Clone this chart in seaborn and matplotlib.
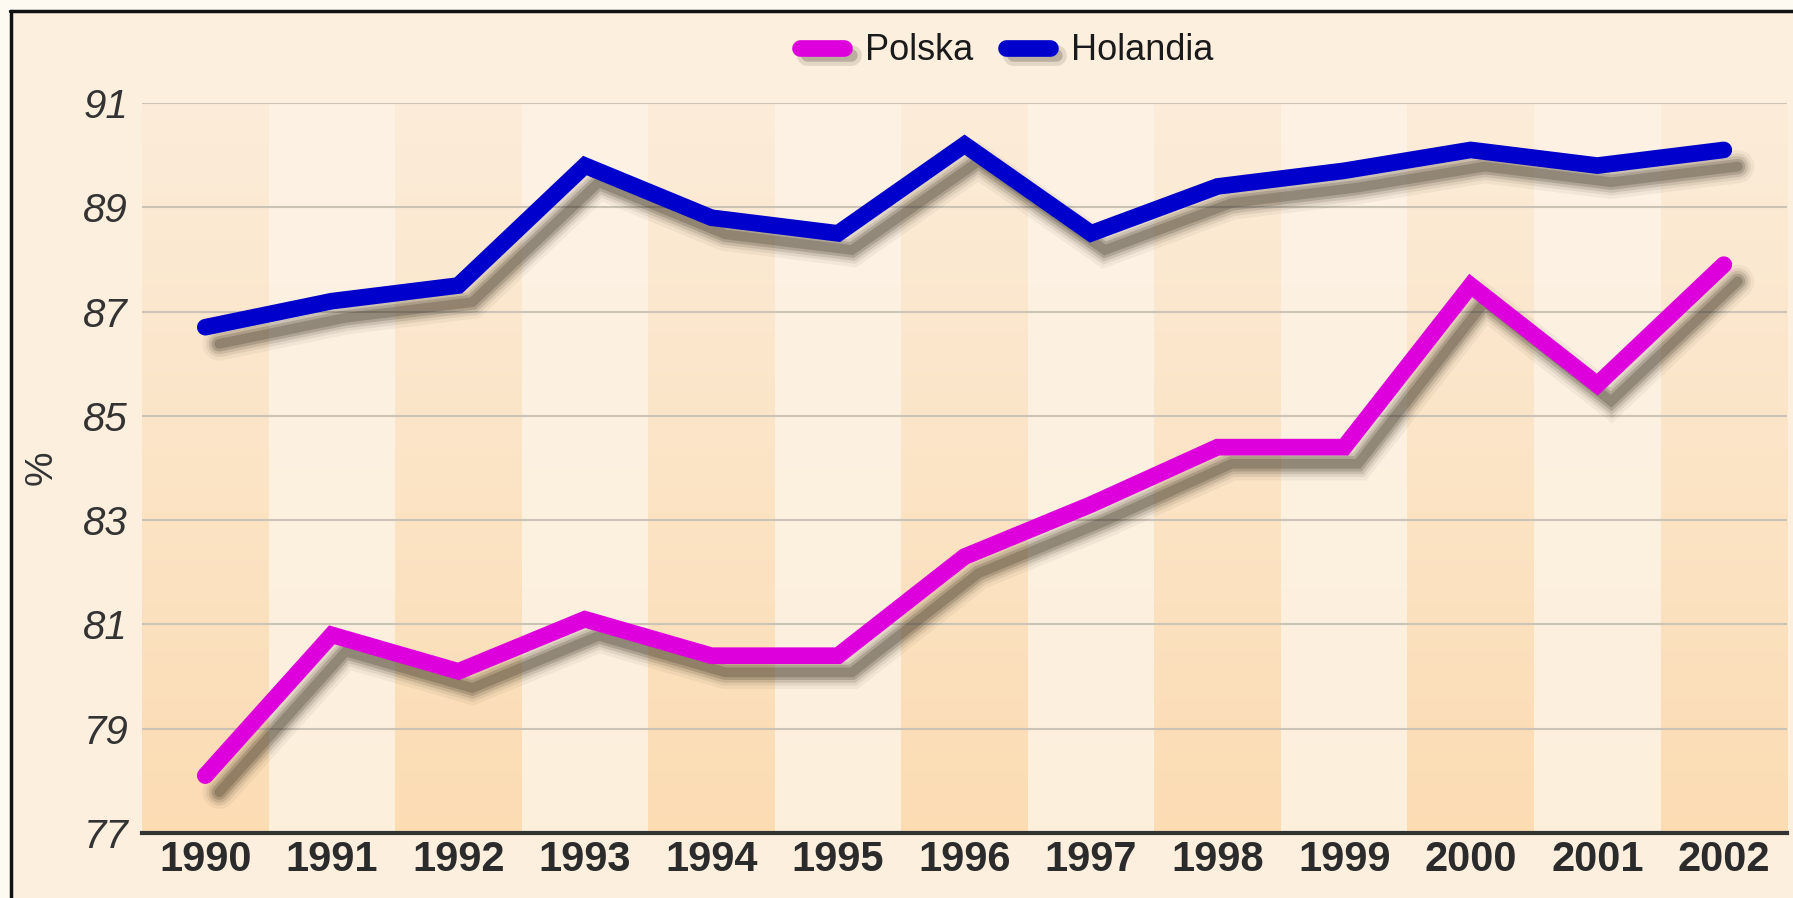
import numpy as np
import pandas as pd
import matplotlib.pyplot as plt
import matplotlib.patheffects as pe
from matplotlib.colors import LinearSegmentedColormap
from matplotlib.lines import Line2D
from matplotlib.patches import Rectangle
import seaborn as sns

# data
years = [1990, 1991, 1992, 1993, 1994, 1995, 1996, 1997, 1998, 1999, 2000, 2001, 2002]
polska = [78.1, 80.8, 80.1, 81.1, 80.4, 80.4, 82.3, 83.3, 84.4, 84.4, 87.5, 85.6, 87.9]
holandia = [86.7, 87.2, 87.5, 89.8, 88.8, 88.5, 90.2, 88.5, 89.4, 89.7, 90.1, 89.8, 90.1]
countries = ['Polska', 'Holandia']
colors = {'Polska': '#dd00dd', 'Holandia': '#0000cc'}
y_ticks = [77, 79, 81, 83, 85, 87, 89, 91]

df = pd.DataFrame({
    'Rok': years * 2,
    'Wartosc': polska + holandia,
    'Kraj': ['Polska'] * len(years) + ['Holandia'] * len(years),
})

sns.set_theme(style='white')
plt.rcParams['font.family'] = ['Liberation Sans', 'DejaVu Sans']

bg = '#fcefde'
fig = plt.figure(figsize=(17.93, 8.98), dpi=100, facecolor=bg)

# white-ish margin strips and the black frame on top/left
fig.add_artist(Rectangle((0, 0), 0.0058, 1, transform=fig.transFigure, color='#fdfaf2', zorder=0))
fig.add_artist(Rectangle((0, 0.989), 1, 0.011, transform=fig.transFigure, color='#fdfaf2', zorder=0))
fig.add_artist(Line2D([0.0064, 0.0064], [0, 0.9875], transform=fig.transFigure, color='#111111', lw=2.5))
fig.add_artist(Line2D([0.0058, 1], [0.9875, 0.9875], transform=fig.transFigure, color='#111111', lw=2.5))

ax = fig.add_axes([0.0792, 0.0724, 0.9175, 0.8129])
ax.set_facecolor(bg)

# alternating column bands, darker ones with a vertical gradient
grad = np.linspace(0, 1, 256).reshape(-1, 1)
dark_cmap = LinearSegmentedColormap.from_list('dark', ['#fcecd9', '#fbdcb3'])
light_cmap = LinearSegmentedColormap.from_list('light', ['#fdf2e4', '#fcefdc'])
for i, yr in enumerate(years):
    cmap = dark_cmap if i % 2 == 0 else light_cmap
    ax.imshow(grad, cmap=cmap, extent=(yr - 0.5, yr + 0.5, 77, 91),
              aspect='auto', origin='upper', zorder=0)

sns.lineplot(data=df, x='Rok', y='Wartosc', hue='Kraj', hue_order=countries,
             palette=colors, linewidth=12, ax=ax, legend=False, zorder=3)

# soft drop shadow: stacked translucent strokes
off = (10, -12)
shadow = [
    pe.SimpleLineShadow(offset=off, shadow_color='#2e2618', alpha=0.05, linewidth=24),
    pe.SimpleLineShadow(offset=off, shadow_color='#2e2618', alpha=0.08, linewidth=19),
    pe.SimpleLineShadow(offset=off, shadow_color='#2e2618', alpha=0.12, linewidth=15),
    pe.SimpleLineShadow(offset=off, shadow_color='#2e2618', alpha=0.18, linewidth=11),
    pe.SimpleLineShadow(offset=off, shadow_color='#2e2618', alpha=0.22, linewidth=7),
    pe.Normal(),
]
for line in ax.get_lines():
    line.set_solid_capstyle('round')
    line.set_solid_joinstyle('miter')
    line.set_path_effects(shadow)

ax.set_xlim(1989.5, 2002.5)
ax.set_ylim(77, 91)
ax.set_xticks(years)
ax.set_xticklabels([str(y) for y in years], fontsize=30, fontweight='bold', color='#2b2b2b')
ax.set_yticks(y_ticks)
ax.set_yticklabels([str(v) for v in y_ticks], fontsize=29, fontstyle='italic', color='#333333')
ax.tick_params(axis='both', length=0)
ax.tick_params(axis='x', pad=5)
ax.tick_params(axis='y', pad=10)
ax.set_xlabel('')
ax.set_ylabel('')

ax.yaxis.grid(True, color='#cbc3b6', linewidth=1.5)
ax.xaxis.grid(False)
ax.set_axisbelow(True)
for side in ['left', 'top', 'right']:
    ax.spines[side].set_visible(False)
ax.spines['bottom'].set_color('#333333')
ax.spines['bottom'].set_linewidth(3)
ax.spines['bottom'].set_zorder(4)

fig.text(42 / 1793, 1 - 468 / 898, '%', rotation=90, ha='center', va='center',
         fontsize=28, color='#333333')

# legend with shadowed rounded handles
leg_shadow = [
    pe.SimpleLineShadow(offset=(5, -5), shadow_color='#2e2618', alpha=0.12, linewidth=15),
    pe.SimpleLineShadow(offset=(5, -5), shadow_color='#2e2618', alpha=0.22, linewidth=9),
    pe.Normal(),
]
handles = []
for c in countries:
    h = Line2D([0], [0], color=colors[c], lw=12, solid_capstyle='round')
    h.set_path_effects(leg_shadow)
    handles.append(h)
fig.legend(handles, countries, loc='center', bbox_to_anchor=(1007 / 1793, 1 - 51 / 898),
           ncol=2, frameon=False, fontsize=26, handlelength=1.2, handletextpad=0.6,
           columnspacing=0.9, labelcolor='#1a1a1a')

plt.savefig('out.png', dpi=100, facecolor=fig.get_facecolor())
